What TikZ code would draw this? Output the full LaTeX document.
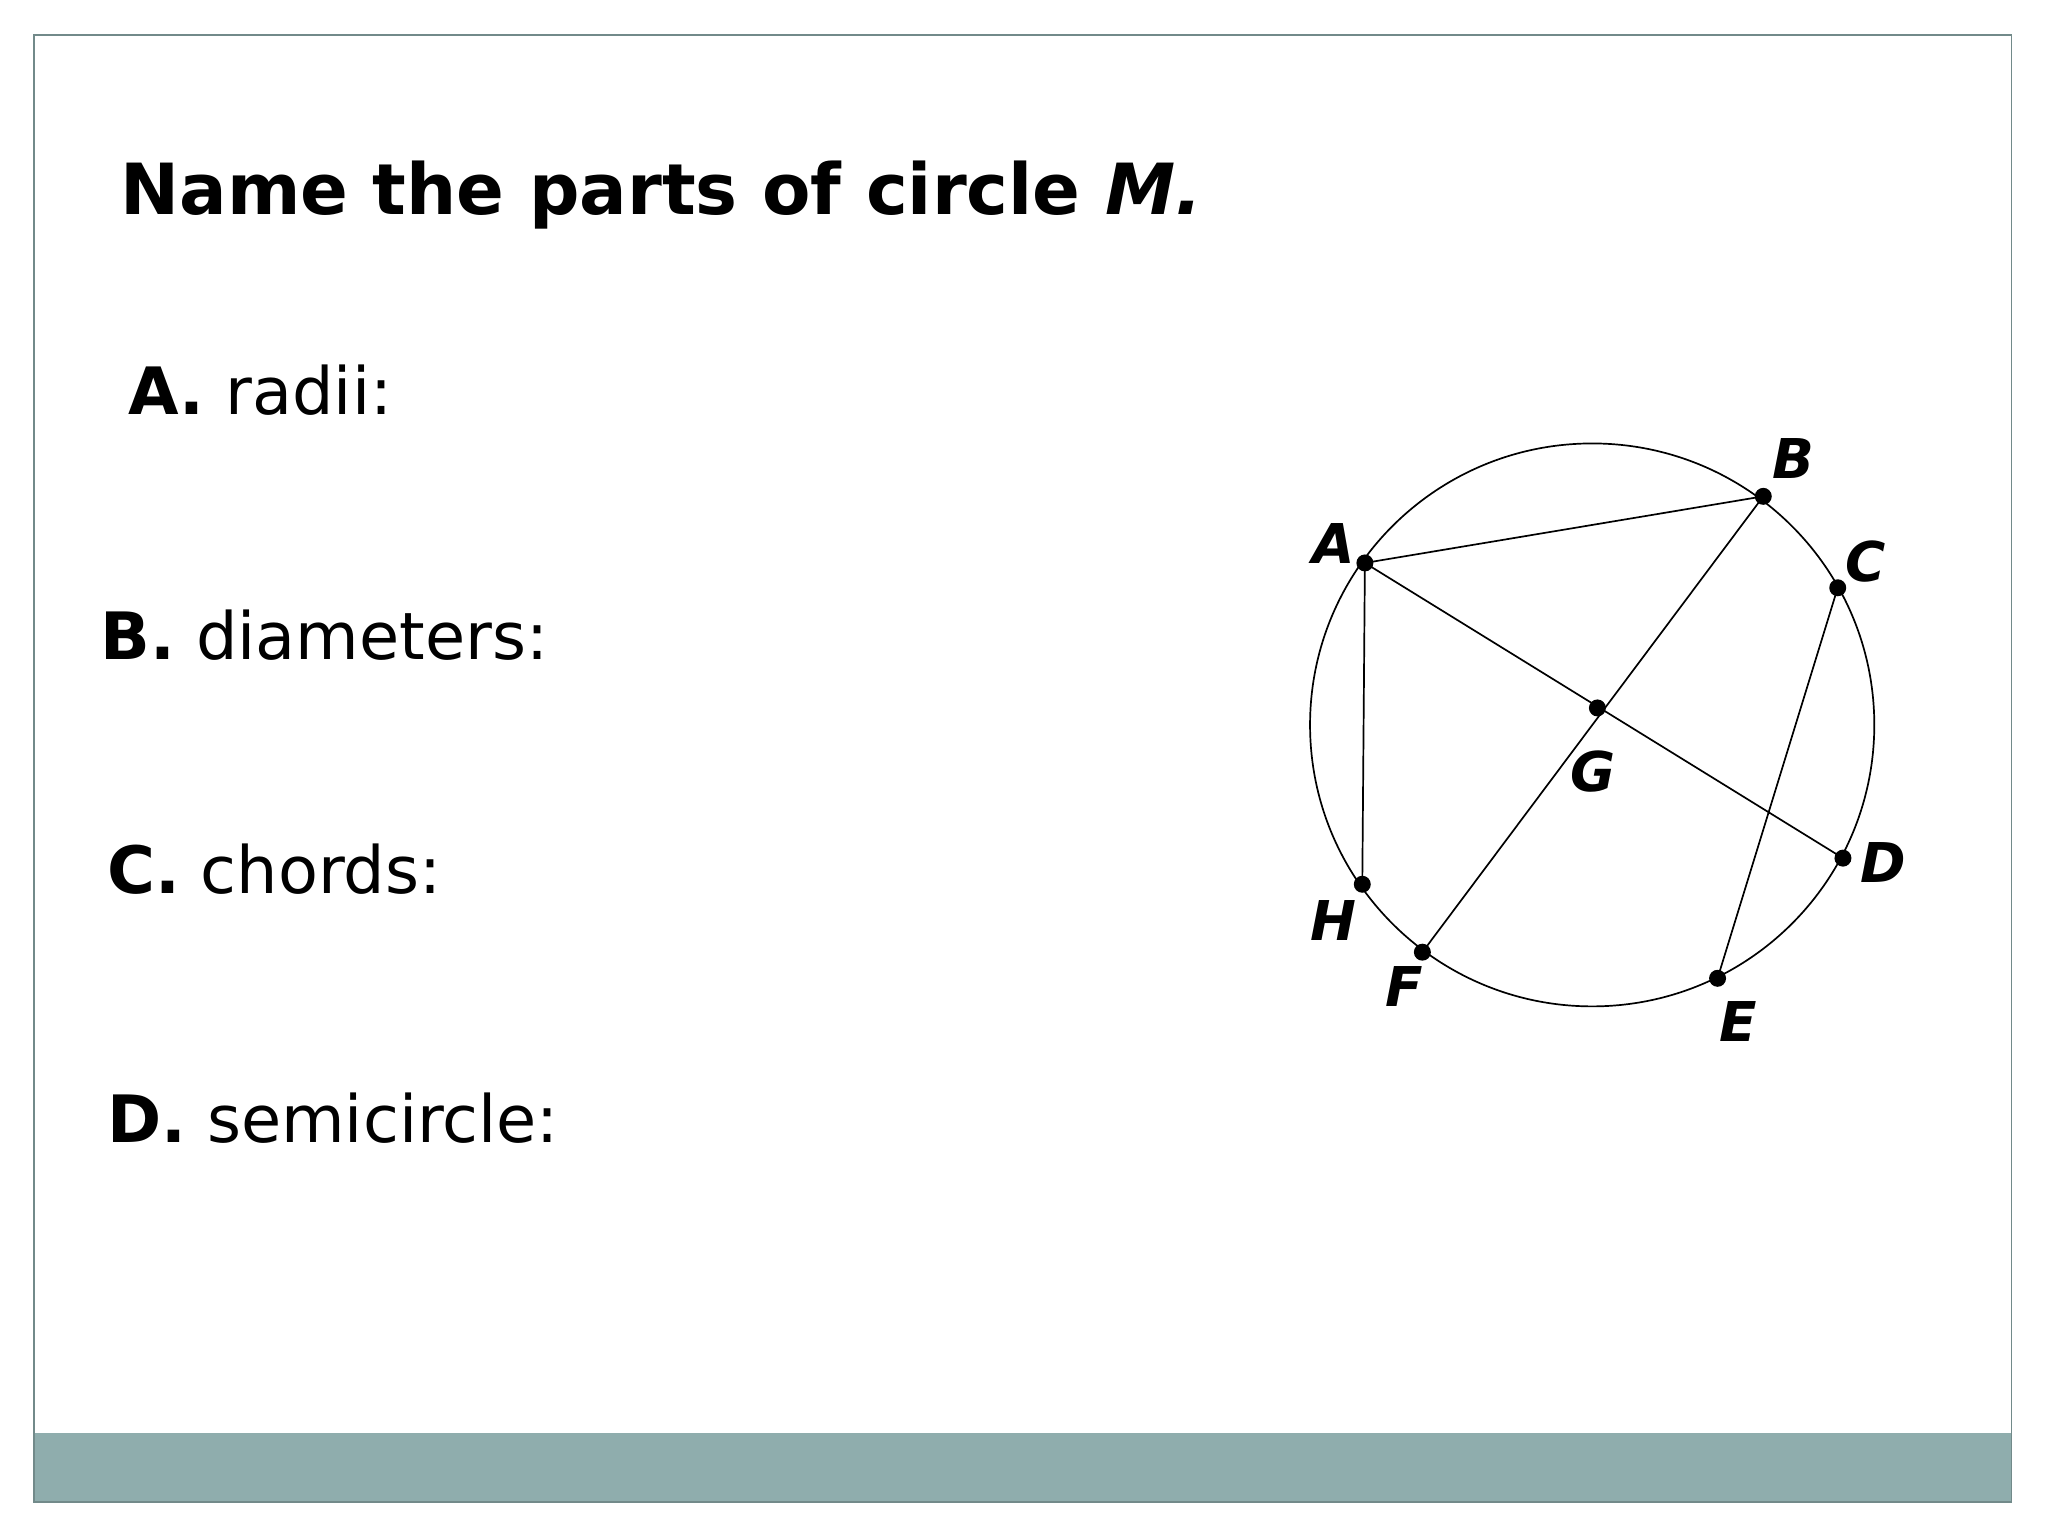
\documentclass[tikz,border=0pt]{standalone}
\usepackage{fontspec}
\setmainfont{DejaVu Sans}
\definecolor{barc}{HTML}{8FADAD}
\begin{document}
\begin{tikzpicture}[x=1pt,y=-1pt,
  txt/.style={anchor=base west,inner sep=0pt,font=\fontsize{50}{60}\selectfont},
  lbl/.style={inner sep=0pt,font=\fontsize{42}{50}\selectfont\bfseries\itshape},
  pt/.style={circle,fill=black,inner sep=0pt,minimum size=13pt}]
\useasboundingbox (0,0) rectangle (1568,1176);
\fill[white] (0,0) rectangle (1568,1176);
\fill[barc] (26,1097) rectangle (1540,1150);
\draw[barc!80!black,line width=1.2pt] (26,27) rectangle (1540,1150);
\node[txt,font=\fontsize{54}{64}\selectfont\bfseries] (t) at (92,164) {Name the parts of circle \textit{M.}};
\node[txt] (a) at (98,317) {\textbf{A.} radii:};
\node[txt] (b) at (77,505) {\textbf{B.} diameters:};
\node[txt] (c) at (82,684) {\textbf{C.} chords:};
\node[txt] (d) at (82,875) {\textbf{D.} semicircle:};
\draw[line width=1.3pt] (1219,555) ellipse (216 and 215.5);
\node[pt] (A) at (1045,431) {};
\node[pt] (B) at (1350,380) {};
\node[pt] (C) at (1407,450) {};
\node[pt] (D) at (1411,657) {};
\node[pt] (E) at (1315,749) {};
\node[pt] (F) at (1089,729) {};
\node[pt] (H) at (1043,677) {};
\node[pt] (G) at (1223,542) {};
\draw[line width=1.3pt] (A.center)--(B.center) (A.center)--(H.center) (A.center)--(D.center) (B.center)--(F.center) (C.center)--(E.center);
\node[lbl] (lA) at (1021,416) {A};
\node[lbl] (lB) at (1373,351) {B};
\node[lbl] (lC) at (1428,430) {C};
\node[lbl] (lD) at (1442,660) {D};
\node[lbl] (lE) at (1331,782) {E};
\node[lbl] (lF) at (1075,755) {F};
\node[lbl] (lG) at (1220,591) {G};
\node[lbl] (lH) at (1021,705) {H};
\end{tikzpicture}
\end{document}
